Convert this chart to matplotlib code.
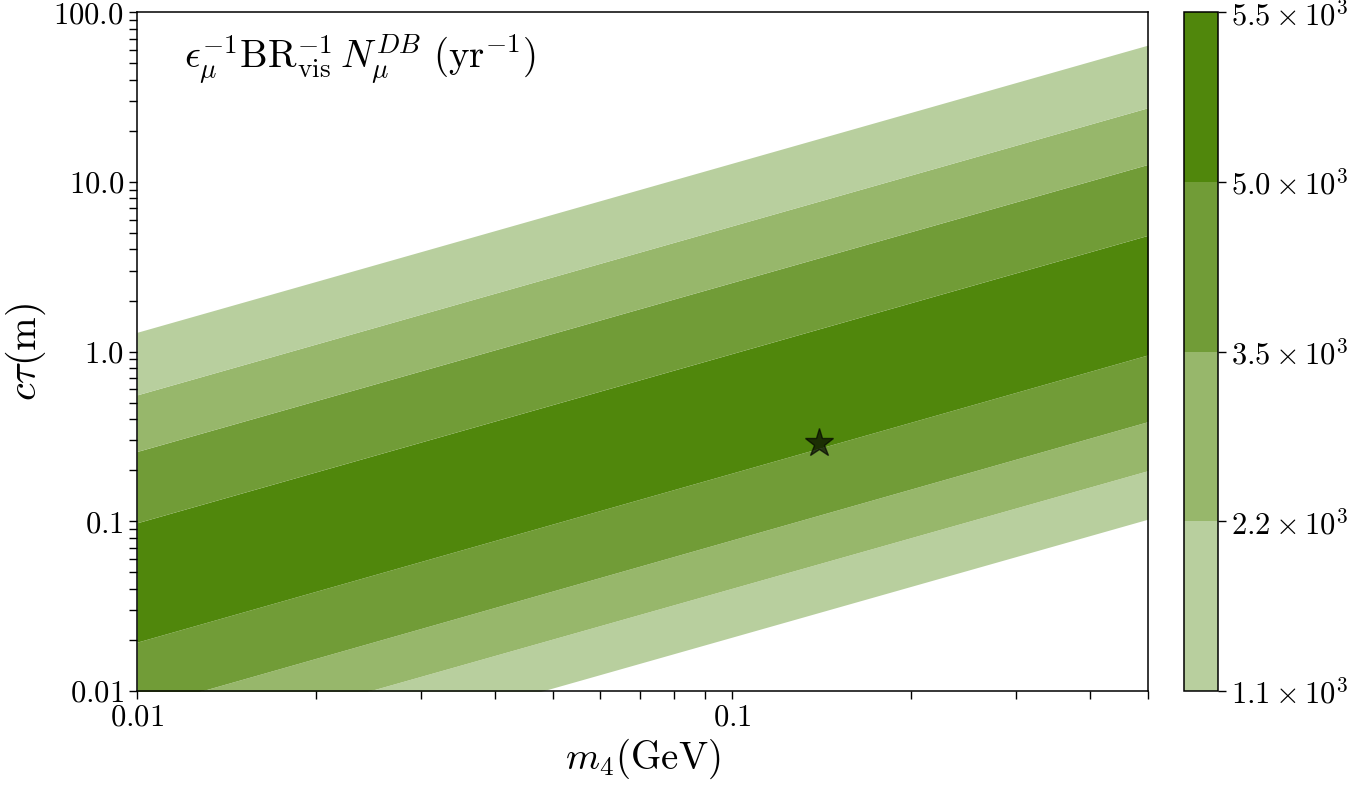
import numpy as np
import matplotlib
matplotlib.use("Agg")
import matplotlib.pyplot as plt
from matplotlib.colors import ListedColormap, BoundaryNorm
from matplotlib.cm import ScalarMappable
from matplotlib.ticker import FixedLocator, FixedFormatter, LogLocator, NullFormatter

plt.rcParams.update(
    {
        "font.family": "serif",
        "font.serif": ["cmr10", "DejaVu Serif"],
        "mathtext.fontset": "cm",
        "axes.formatter.use_mathtext": True,
        "font.size": 22,
    }
)

# mass range (GeV) where band edges were read
m4_ends = [0.01, 0.5]

# c*tau (m) of each band edge at m4 = 0.01 and m4 = 0.5, bottom to top
edge_left = [0.0021, 0.0041, 0.0078, 0.0194, 0.098, 0.258, 0.556, 1.30]
edge_right = [0.103, 0.199, 0.387, 0.957, 4.85, 12.7, 27.4, 64.1]

# contour level of each band (index into colour levels), bottom to top
band_level = [0, 1, 2, 3, 2, 1, 0]

levels = [1.1e3, 2.2e3, 3.5e3, 5.0e3, 5.5e3]
level_labels = [r"$1.1\times10^3$", r"$2.2\times10^3$", r"$3.5\times10^3$",
                r"$5.0\times10^3$", r"$5.5\times10^3$"]
colors = ["#b8cf9e", "#97b76b", "#719c37", "#50870c"]

# benchmark point
star_m4 = [0.14]
star_ctau = [0.29]

fig = plt.figure(figsize=(13.52, 7.88), dpi=100)
ax = fig.add_axes([0.1013, 0.1231, 0.7478, 0.8613])
cax = fig.add_axes([0.8758, 0.1231, 0.0250, 0.8613])

ax.set_xscale("log")
ax.set_yscale("log")

for i, lev in enumerate(band_level):
    lo = [edge_left[i], edge_right[i]]
    hi = [edge_left[i + 1], edge_right[i + 1]]
    ax.fill_between(m4_ends, lo, hi, color=colors[lev], linewidth=0)

ax.plot(star_m4, star_ctau, marker="*", ms=21, color="black", alpha=0.65,
        mec="black", linestyle="none")

ax.set_xlim(0.01, 0.5)
ax.set_ylim(0.01, 100)

ax.xaxis.set_major_locator(FixedLocator([0.01, 0.1]))
ax.xaxis.set_major_formatter(FixedFormatter(["$0.01$", "$0.1$"]))
ax.xaxis.set_minor_locator(LogLocator(base=10, subs=np.arange(2, 10)))
ax.xaxis.set_minor_formatter(NullFormatter())
ax.yaxis.set_major_locator(FixedLocator([0.01, 0.1, 1, 10, 100]))
ax.yaxis.set_major_formatter(FixedFormatter(["$0.01$", "$0.1$", "$1.0$", "$10.0$", "$100.0$"]))
ax.yaxis.set_minor_locator(LogLocator(base=10, subs=np.arange(2, 10)))
ax.yaxis.set_minor_formatter(NullFormatter())
ax.tick_params(which="both", direction="out", length=6, width=1, labelsize=22)
for s in ax.spines.values():
    s.set_linewidth(1.1)

ax.set_xlabel(r"$m_4(\mathrm{GeV})$", fontsize=28, labelpad=4)
ax.set_ylabel(r"$c\tau(\mathrm{m})$", fontsize=29, labelpad=4)

ax.text(0.047, 0.97,
        r"$\epsilon_\mu^{-1}\mathrm{BR}_{\rm vis}^{-1}\,N_\mu^{DB}\ (\mathrm{yr}^{-1})$",
        transform=ax.transAxes, fontsize=28, va="top", ha="left")

cmap = ListedColormap(colors)
norm = BoundaryNorm(levels, cmap.N)
sm = ScalarMappable(norm=norm, cmap=cmap)
cb = fig.colorbar(sm, cax=cax, spacing="uniform", ticks=levels)
cb.ax.set_yticklabels(level_labels)
cb.ax.tick_params(direction="out", length=6, width=1, labelsize=22)
cb.outline.set_linewidth(1.1)

fig.savefig("out.png", dpi=100)
